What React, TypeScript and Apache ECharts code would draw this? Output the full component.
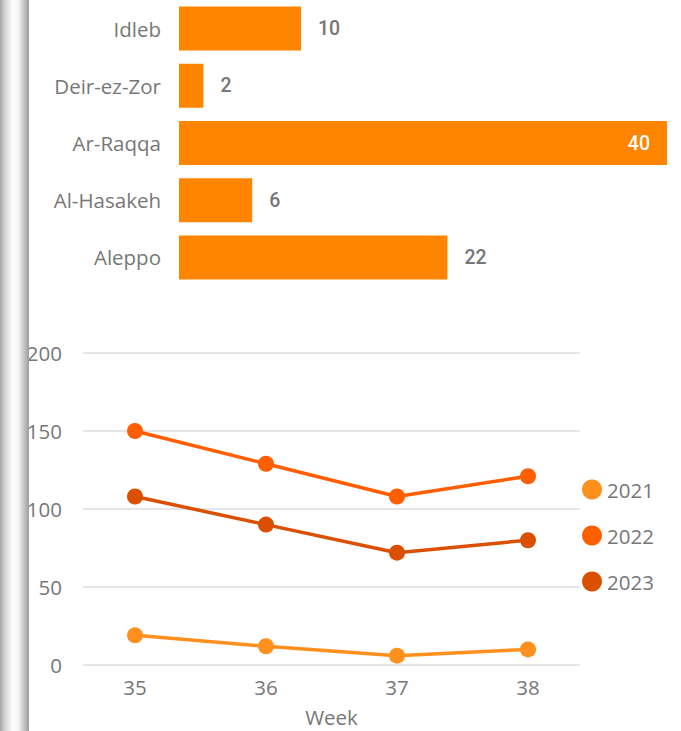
import React, { useEffect, useRef } from "react";
import * as echarts from "echarts";

const regions = ["Idleb", "Deir-ez-Zor", "Ar-Raqqa", "Al-Hasakeh", "Aleppo"];
const regionValues = [10, 2, 40, 6, 22];

const weeks = [35, 36, 37, 38];
const years = ["2021", "2022", "2023"];
const values2021 = [19, 12, 6, 10];
const values2022 = [150, 129, 108, 121];
const values2023 = [108, 90, 72, 80];
const yTicks = [0, 50, 100, 150, 200];

const yearColors = ["#FF901E", "#FF5F00", "#DB5000"];
const barColor = "#FF8500";
const textGray = "#777777";
const font = "'Open Sans', 'Noto Sans', sans-serif";

export default function App() {
  const ref = useRef<HTMLDivElement>(null);
  useEffect(() => {
    if (!ref.current) return;
    const chart = echarts.init(ref.current, null, { renderer: "svg" });
    const maxVal = Math.max(...regionValues);
    const barData = regionValues.map((v) =>
      v === maxVal
        ? { value: v, label: { position: "insideRight", color: "#ffffff", distance: 17 } }
        : v
    );
    const lineSets = [values2021, values2022, values2023];
    chart.setOption({
      animation: false,
      backgroundColor: "#ffffff",
      textStyle: { fontFamily: font },
      graphic: [
        {
          type: "rect",
          shape: { x: 0, y: 0, width: 29, height: 731 },
          style: {
            fill: new echarts.graphic.LinearGradient(0, 0, 1, 0, [
              { offset: 0, color: "#a6a6a6" },
              { offset: 0.15, color: "#cfcfcf" },
              { offset: 0.45, color: "#ffffff" },
              { offset: 0.65, color: "#f2f2f2" },
              { offset: 0.88, color: "#b8b8b8" },
              { offset: 1, color: "#9c9c9c" },
            ]),
          },
          z: 100,
        },
      ],
      grid: [
        { left: 179, top: -1, width: 488, height: 287 },
        { left: 83, top: 353, width: 497, height: 312 },
      ],
      xAxis: [
        {
          gridIndex: 0,
          type: "value",
          min: 0,
          max: 40,
          show: false,
        },
        {
          gridIndex: 1,
          type: "value",
          min: 34.603,
          max: 38.397,
          axisLine: { show: false },
          axisTick: { show: false },
          splitLine: { show: false },
          axisLabel: {
            customValues: weeks,
            color: textGray,
            fontSize: 20.5,
            fontFamily: font,
            margin: 11,
          },
          name: "Week",
          nameLocation: "middle",
          nameGap: 41,
          nameTextStyle: { color: textGray, fontSize: 20.5, fontFamily: font },
        },
      ],
      yAxis: [
        {
          gridIndex: 0,
          type: "category",
          inverse: true,
          data: regions,
          axisLine: { show: false },
          axisTick: { show: false },
          splitLine: { show: false },
          axisLabel: { color: textGray, fontSize: 20.5, fontFamily: font, margin: 18 },
        },
        {
          gridIndex: 1,
          type: "value",
          min: 0,
          max: 200,
          interval: 50,
          axisLine: { show: false },
          axisTick: { show: false },
          axisLabel: {
            customValues: yTicks,
            color: textGray,
            fontSize: 20.5,
            fontFamily: font,
            margin: 21,
          },
          splitLine: { lineStyle: { color: "#e6e6e6", width: 2 } },
        },
      ],
      legend: {
        orient: "vertical",
        left: 582,
        top: 479,
        padding: 0,
        icon: "circle",
        itemWidth: 20,
        itemHeight: 20,
        itemGap: 25,
        data: years,
        textStyle: { color: textGray, fontSize: 20.5, fontFamily: font },
      },
      series: [
        {
          type: "bar",
          xAxisIndex: 0,
          yAxisIndex: 0,
          data: barData,
          barWidth: 44,
          itemStyle: { color: barColor },
          label: {
            show: true,
            position: "right",
            distance: 17,
            color: "#767676",
            fontSize: 19.5,
            fontWeight: 500,
            fontFamily: "Roboto, sans-serif",
          },
        },
        ...years.map((y, i) => ({
          type: "line",
          name: y,
          xAxisIndex: 1,
          yAxisIndex: 1,
          data: weeks.map((w, j) => [w, lineSets[i][j]]),
          symbol: "circle",
          symbolSize: 16,
          lineStyle: { color: yearColors[i], width: 3.5 },
          itemStyle: { color: yearColors[i] },
        })),
      ],
    });
    return () => chart.dispose();
  }, []);
  return (
    <div
      ref={ref}
      style={{ position: "absolute", left: 0, top: 0, width: 681, height: 731 }}
    />
  );
}
